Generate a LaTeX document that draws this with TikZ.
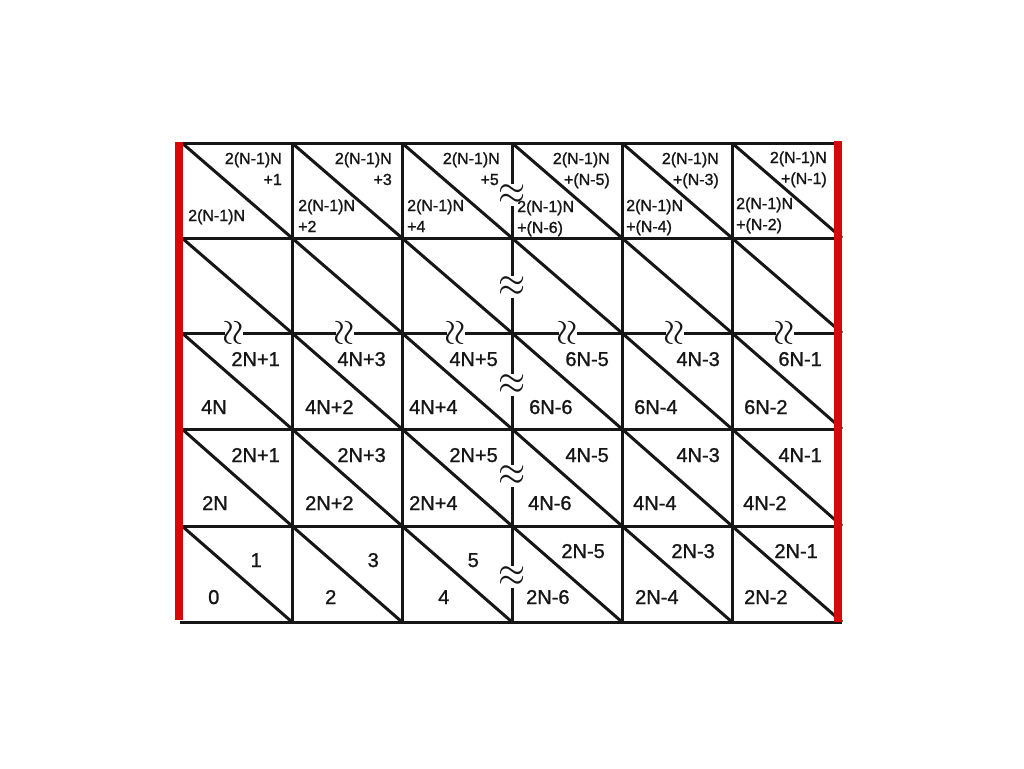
\documentclass[tikz,border=0pt]{standalone}
\usepackage{fontspec}
\setmainfont{Liberation Sans}[BoldFont={Liberation Sans}, BoldFeatures={FakeBold=1.2}]
\definecolor{barred}{RGB}{214,8,8}
\definecolor{ink}{RGB}{22,22,22}
\newcommand{\brksym}{\scalebox{1.4}[1.65]{$\approx$}}
\begin{document}
\begin{tikzpicture}[x=1pt,y=-1pt,
  grid/.style={line width=3pt, draw=ink},
  redbar/.style={line width=8pt, draw=barred},
  big/.style={inner sep=0pt, text=ink, font=\fontsize{20}{24}\bfseries},
  small/.style={inner sep=0pt, text=ink, font=\fontsize{16}{19}\bfseries},
  brk/.style={inner sep=0pt, text=ink, font=\fontsize{34}{36}\selectfont},
  gap/.style={fill=white},
]
\fill[white] (0,0) rectangle (1024,768);
\useasboundingbox (0,0) rectangle (1024,768);
% grid
\foreach \y in {143,238,333,429,526,622} \draw[grid] (180,\y) -- (842,\y);
\foreach \x in {292,402,512,622,732} \draw[grid] (\x,143) -- (\x,622);
\foreach \xa/\xb in {182/292,292/402,402/512,512/622,622/732,732/842}
  \foreach \ya/\yb in {143/238,238/333,333/429,429/526,526/622}
    \draw[grid] (\xa,\ya) -- (\xb,\yb);
% breaks in the vertical line
\foreach \y in {195,287,385,476,577} \fill[gap] (505,\y-11) rectangle (519,\y+11);
\node[brk] (v1) at (512,195) {\brksym};
\node[brk] (v2) at (512,287) {\brksym};
\node[brk] (v3) at (512,385) {\brksym};
\node[brk] (v4) at (512,476) {\brksym};
\node[brk] (v5) at (512,577) {\brksym};
% breaks in the horizontal line
\foreach \x in {234,345,456,568,675,785} \fill[gap] (\x-9,327) rectangle (\x+9,339);
\node[brk, rotate=90] (h1) at (234,333) {\brksym};
\node[brk, rotate=90] (h2) at (345,333) {\brksym};
\node[brk, rotate=90] (h3) at (456,333) {\brksym};
\node[brk, rotate=90] (h4) at (568,333) {\brksym};
\node[brk, rotate=90] (h5) at (675,333) {\brksym};
\node[brk, rotate=90] (h6) at (785,333) {\brksym};
% red side bars
\draw[redbar] (179,142) -- (179,620);
\draw[redbar] (837.5,141) -- (837.5,622);
% top row
\node[small, anchor=base east] (a1u1) at (282,164) {2(N-1)N};
\node[small, anchor=base east] (a1u2) at (282,185) {+1};
\node[small, anchor=base west] (a1l1) at (188,221) {2(N-1)N};
\node[small, anchor=base east] (a2u1) at (392,164) {2(N-1)N};
\node[small, anchor=base east] (a2u2) at (392,185) {+3};
\node[small, anchor=base west] (a2l1) at (298,211) {2(N-1)N};
\node[small, anchor=base west] (a2l2) at (298,232) {+2};
\node[small, anchor=base east] (a3u1) at (500,164) {2(N-1)N};
\node[small, anchor=base east] (a3u2) at (499,185) {+5};
\node[small, anchor=base west] (a3l1) at (407,211) {2(N-1)N};
\node[small, anchor=base west] (a3l2) at (407,232) {+4};
\node[small, anchor=base east] (a4u1) at (610,164) {2(N-1)N};
\node[small, anchor=base east] (a4u2) at (610,185) {+(N-5)};
\node[small, anchor=base west] (a4l1) at (517,212) {2(N-1)N};
\node[small, anchor=base west] (a4l2) at (517,233) {+(N-6)};
\node[small, anchor=base east] (a5u1) at (719,164) {2(N-1)N};
\node[small, anchor=base east] (a5u2) at (719,185) {+(N-3)};
\node[small, anchor=base west] (a5l1) at (626,211) {2(N-1)N};
\node[small, anchor=base west] (a5l2) at (626,232) {+(N-4)};
\node[small, anchor=base east] (a6u1) at (827,163) {2(N-1)N};
\node[small, anchor=base east] (a6u2) at (827,184) {+(N-1)};
\node[small, anchor=base west] (a6l1) at (736,209) {2(N-1)N};
\node[small, anchor=base west] (a6l2) at (736,230) {+(N-2)};
% third row
\node[big, anchor=base east] (c1u) at (280,366) {2N+1};
\node[big, anchor=base west] (c1l) at (201,414) {4N};
\node[big, anchor=base east] (c2u) at (386,366) {4N+3};
\node[big, anchor=base west] (c2l) at (305,414) {4N+2};
\node[big, anchor=base east] (c3u) at (498,366) {4N+5};
\node[big, anchor=base west] (c3l) at (409,414) {4N+4};
\node[big, anchor=base east] (c4u) at (609,366) {6N-5};
\node[big, anchor=base west] (c4l) at (529,414) {6N-6};
\node[big, anchor=base east] (c5u) at (720,366) {4N-3};
\node[big, anchor=base west] (c5l) at (634,414) {6N-4};
\node[big, anchor=base east] (c6u) at (822,366) {6N-1};
\node[big, anchor=base west] (c6l) at (744,414) {6N-2};
% fourth row
\node[big, anchor=base east] (d1u) at (280,462) {2N+1};
\node[big, anchor=base west] (d1l) at (202,510) {2N};
\node[big, anchor=base east] (d2u) at (386,462) {2N+3};
\node[big, anchor=base west] (d2l) at (305,510) {2N+2};
\node[big, anchor=base east] (d3u) at (498,462) {2N+5};
\node[big, anchor=base west] (d3l) at (409,510) {2N+4};
\node[big, anchor=base east] (d4u) at (609,462) {4N-5};
\node[big, anchor=base west] (d4l) at (528,510) {4N-6};
\node[big, anchor=base east] (d5u) at (720,462) {4N-3};
\node[big, anchor=base west] (d5l) at (633,510) {4N-4};
\node[big, anchor=base east] (d6u) at (822,462) {4N-1};
\node[big, anchor=base west] (d6l) at (743,510) {4N-2};
% bottom row
\node[big, anchor=base east] (e1u) at (262,567) {1};
\node[big, anchor=base west] (e1l) at (208,604) {0};
\node[big, anchor=base east] (e2u) at (379,567) {3};
\node[big, anchor=base west] (e2l) at (325,604) {2};
\node[big, anchor=base east] (e3u) at (479,567) {5};
\node[big, anchor=base west] (e3l) at (438,604) {4};
\node[big, anchor=base east] (e4u) at (605,558) {2N-5};
\node[big, anchor=base west] (e4l) at (526,604) {2N-6};
\node[big, anchor=base east] (e5u) at (715,558) {2N-3};
\node[big, anchor=base west] (e5l) at (635,604) {2N-4};
\node[big, anchor=base east] (e6u) at (818,558) {2N-1};
\node[big, anchor=base west] (e6l) at (744,604) {2N-2};
\end{tikzpicture}
\end{document}
